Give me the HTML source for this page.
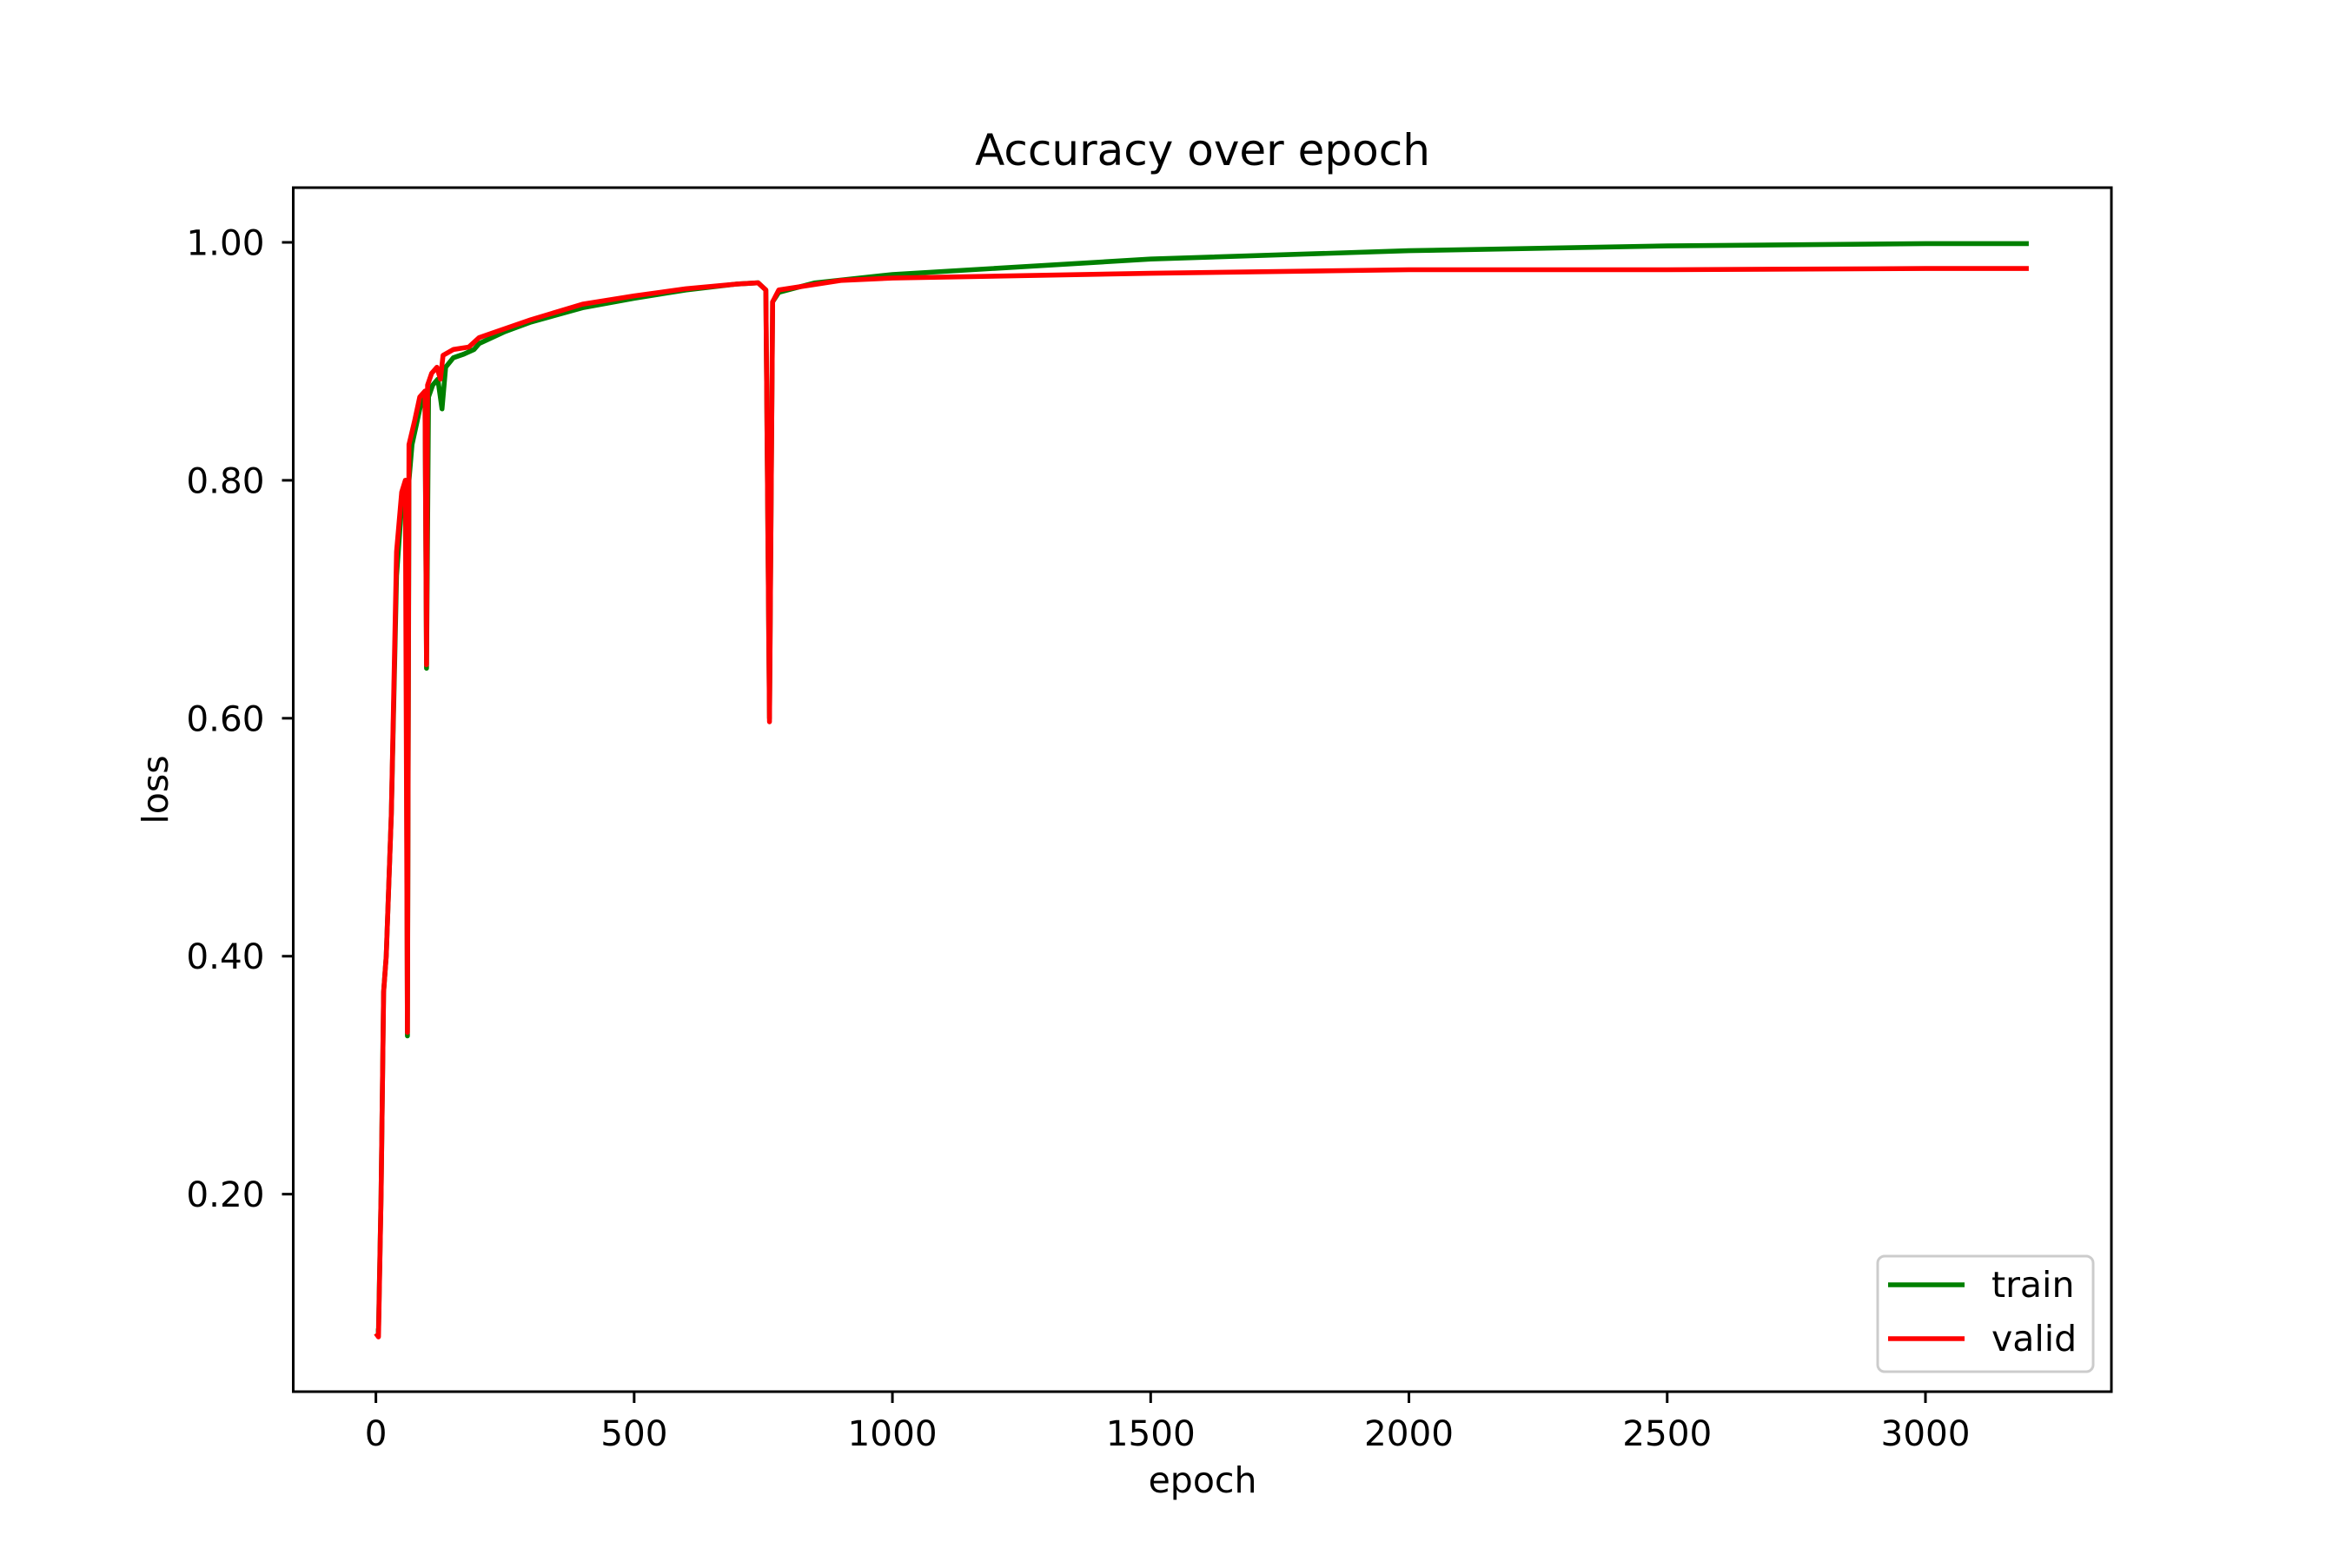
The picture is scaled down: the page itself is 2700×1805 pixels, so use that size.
<!DOCTYPE html>
<html><head><meta charset="utf-8">
<style>
html,body{margin:0;padding:0;background:#fff;}
svg text{font-family:"DejaVu Sans","Liberation Sans",sans-serif;fill:#000;}
</style></head>
<body>
<svg id="chart" width="2700" height="1800" xmlns="http://www.w3.org/2000/svg">
<rect width="2700" height="1800" fill="#fff"/>
<text x="1384" y="190" font-size="50" text-anchor="middle">Accuracy over epoch</text>
<g id="ticks"></g>
<g id="series"></g>
<rect x="337.5" y="216" width="2092.5" height="1386" fill="none" stroke="#000" stroke-width="3"/>
<text x="1384" y="1718" font-size="41" text-anchor="middle">epoch</text>
<text transform="translate(193,909) rotate(-90)" font-size="41" text-anchor="middle">loss</text>
<g>
<rect x="2161" y="1446" width="248" height="133" rx="8" fill="#fff" fill-opacity="0.8" stroke="#ccc" stroke-width="3"/>
<g>
<line x1="2173" y1="1479" x2="2261" y2="1479" stroke="#008000" stroke-width="5.6"/>
<text x="2292" y="1493" font-size="41">train</text>
</g>
<g>
<line x1="2173" y1="1541" x2="2261" y2="1541" stroke="#ff0000" stroke-width="5.6"/>
<text x="2292" y="1555" font-size="41">valid</text>
</g>
</g>
</svg>
<script>
const xTicks = [0, 500, 1000, 1500, 2000, 2500, 3000];
const yTicks = [0.2, 0.4, 0.6, 0.8, 1.0];
const yTickLabels = ["0.20", "0.40", "0.60", "0.80", "1.00"];
const trainEpochs = [0,5,10,15,20,30,40,50,58,61,64,70,80,90,95,98,102,110,120,128,135,150,170,190,200,250,300,400,500,600,700,740,755,762,768,780,850,1000,1500,2000,2500,3000,3200];
const trainAcc = [0.085,0.085,0.2,0.37,0.4,0.52,0.72,0.78,0.80,0.333,0.80,0.83,0.85,0.87,0.87,0.642,0.87,0.88,0.885,0.86,0.895,0.903,0.906,0.91,0.915,0.925,0.933,0.945,0.953,0.96,0.965,0.966,0.96,0.6,0.95,0.958,0.966,0.973,0.986,0.993,0.997,0.999,0.999];
const validEpochs = [0,5,10,15,20,30,40,50,57,61,64,75,85,95,98,100,108,118,125,130,150,180,200,300,400,500,600,700,740,755,762,768,780,900,1000,1500,2000,2500,3000,3200];
const validAcc = [0.083,0.08,0.2,0.37,0.4,0.52,0.74,0.79,0.80,0.336,0.83,0.85,0.87,0.875,0.645,0.88,0.89,0.895,0.885,0.905,0.91,0.912,0.92,0.935,0.948,0.955,0.961,0.965,0.966,0.96,0.597,0.95,0.96,0.968,0.970,0.974,0.977,0.977,0.978,0.978];

const X0=337.5, X1=2430, XMIN=-160, XMAX=3360;
const Y0=1602, Y1=216, YMIN=0.034, YMAX=1.046;
function xs(v){return X0+(v-XMIN)/(XMAX-XMIN)*(X1-X0);}
function ys(v){return Y0-(v-YMIN)/(YMAX-YMIN)*(Y0-Y1);}
const NS="http://www.w3.org/2000/svg";
const tg=document.getElementById('ticks');
xTicks.forEach(t=>{
  const l=document.createElementNS(NS,'line');
  l.setAttribute('x1',xs(t));l.setAttribute('x2',xs(t));
  l.setAttribute('y1',Y0);l.setAttribute('y2',Y0+13);
  l.setAttribute('stroke','#000');l.setAttribute('stroke-width','3');
  
  
  tg.appendChild(l);
  const tx=document.createElementNS(NS,'text');
  tx.setAttribute('x',xs(t));tx.setAttribute('y',Y0+62);
  tx.setAttribute('font-size','40.5');tx.setAttribute('text-anchor','middle');
  tx.textContent=String(t);
  
  
  tg.appendChild(tx);
});
yTicks.forEach((t,i)=>{
  const l=document.createElementNS(NS,'line');
  l.setAttribute('x1',X0-13);l.setAttribute('x2',X0);
  l.setAttribute('y1',ys(t));l.setAttribute('y2',ys(t));
  l.setAttribute('stroke','#000');l.setAttribute('stroke-width','3');
  
  
  tg.appendChild(l);
  const tx=document.createElementNS(NS,'text');
  tx.setAttribute('x',X0-33);tx.setAttribute('y',ys(t)+14.5);
  tx.setAttribute('font-size','40.5');tx.setAttribute('text-anchor','end');
  tx.textContent=yTickLabels[i];
  
  
  tg.appendChild(tx);
});
const sg=document.getElementById('series');
function line(ex,vals,color,name){
  const p=document.createElementNS(NS,'polyline');
  p.setAttribute('points',ex.map((e,i)=>xs(e).toFixed(1)+','+ys(vals[i]).toFixed(1)).join(' '));
  p.setAttribute('fill','none');p.setAttribute('stroke',color);
  p.setAttribute('stroke-width','5.6');p.setAttribute('stroke-linejoin','round');
  
  
  sg.appendChild(p);
}
line(trainEpochs,trainAcc,'#008000','train-line');
line(validEpochs,validAcc,'#ff0000','valid-line');
</script>
</body></html>
